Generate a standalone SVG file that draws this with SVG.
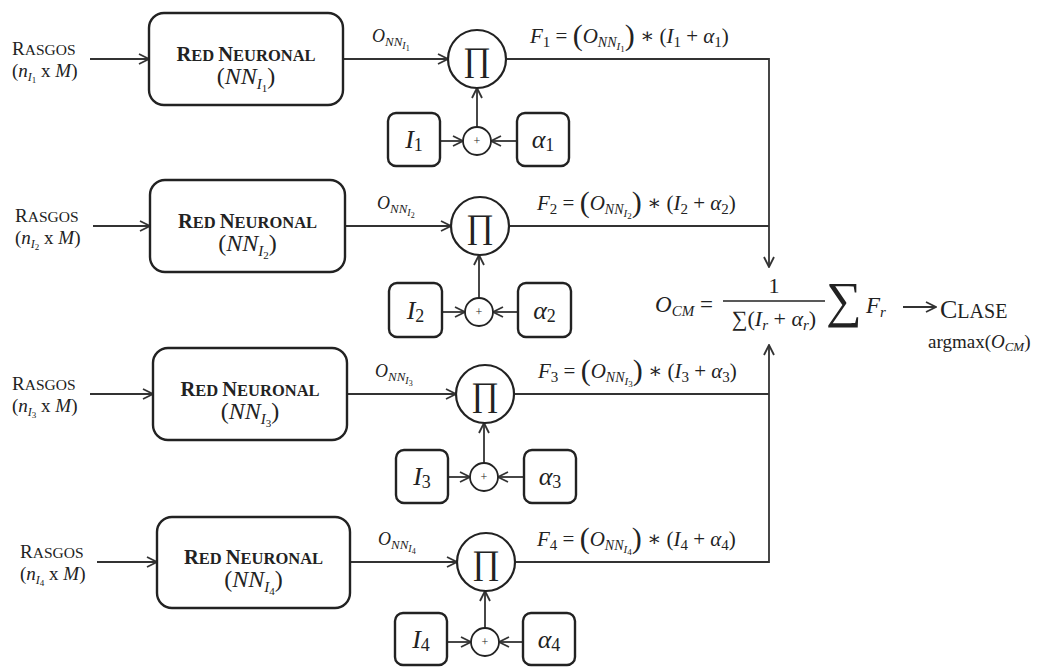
<svg xmlns="http://www.w3.org/2000/svg" width="1042" height="667" viewBox="0 0 1042 667">
<defs>
<marker id="ah" viewBox="0 0 12 12" refX="11" refY="6" markerWidth="12" markerHeight="12" markerUnits="userSpaceOnUse" orient="auto"><path d="M1,1 L11,6 L1,11" fill="none" stroke="#333" stroke-width="1.8"/></marker>
<style>
.ln{fill:none;stroke:#333;stroke-width:1.8}
.ar{marker-end:url(#ah)}
.box{fill:#fff;stroke:#222;stroke-width:2.4}
.cir{fill:#fff;stroke:#222;stroke-width:2.2}
.pc{fill:#fff;stroke:#222;stroke-width:1.8}
.t{font-family:"Liberation Serif","DejaVu Serif",serif;fill:#222}
.i{font-style:italic}
.b{font-weight:bold}
</style>
</defs>
<rect width="1042" height="667" fill="#fff"/>

<g id="connectors">
<path class="ln ar" d="M90,59 H149"/>
<path class="ln ar" d="M343,59 H448"/>
<path class="ln ar" d="M440,141 H463"/>
<path class="ln ar" d="M517,141 H491"/>
<path class="ln ar" d="M477,127 V88"/>
<path class="ln ar" d="M506,59 H769 V267"/>

<path class="ln ar" d="M93,226 H150"/>
<path class="ln ar" d="M345,226 H451"/>
<path class="ln ar" d="M442,312 H465"/>
<path class="ln ar" d="M518,312 H493"/>
<path class="ln ar" d="M479,298 V255"/>
<path class="ln" d="M509,226 H769"/>

<path class="ln ar" d="M90,394 H153"/>
<path class="ln ar" d="M347,394 H456"/>
<path class="ln ar" d="M448,477 H470"/>
<path class="ln ar" d="M524,477 H498"/>
<path class="ln ar" d="M484,463 V423"/>
<path class="ln" d="M514,394 H769"/>

<path class="ln ar" d="M97,562 H157"/>
<path class="ln ar" d="M350,562 H457"/>
<path class="ln ar" d="M447,642 H471"/>
<path class="ln ar" d="M523,642 H499"/>
<path class="ln ar" d="M485,628 V591"/>
<path class="ln ar" d="M515,562 H769 V345"/>

<path class="ln ar" d="M903,307 H936"/>

<!-- edge labels -->
<text class="t" x="372" y="42" font-size="18"><tspan class="i">O</tspan><tspan class="i" font-size="13" dy="4">NN</tspan><tspan class="i" font-size="10" dy="3">I</tspan><tspan font-size="8" dy="2">1</tspan></text>
<text class="t" x="377" y="209" font-size="18"><tspan class="i">O</tspan><tspan class="i" font-size="13" dy="4">NN</tspan><tspan class="i" font-size="10" dy="3">I</tspan><tspan font-size="8" dy="2">2</tspan></text>
<text class="t" x="375" y="377" font-size="18"><tspan class="i">O</tspan><tspan class="i" font-size="13" dy="4">NN</tspan><tspan class="i" font-size="10" dy="3">I</tspan><tspan font-size="8" dy="2">3</tspan></text>
<text class="t" x="378" y="545" font-size="18"><tspan class="i">O</tspan><tspan class="i" font-size="13" dy="4">NN</tspan><tspan class="i" font-size="10" dy="3">I</tspan><tspan font-size="8" dy="2">4</tspan></text>

<text class="t" x="530" y="43" font-size="21"><tspan class="i">F</tspan><tspan font-size="15" dy="4">1</tspan><tspan dy="-4"> = </tspan><tspan font-size="30" dy="2">(</tspan><tspan class="i" dy="-2">O</tspan><tspan class="i" font-size="14" dy="4">NN</tspan><tspan class="i" font-size="11" dy="3">I</tspan><tspan font-size="9" dy="2">1</tspan><tspan font-size="30" dy="-7">)</tspan><tspan dy="-2"> ∗ (</tspan><tspan class="i">I</tspan><tspan font-size="15" dy="4">1</tspan><tspan dy="-4"> + </tspan><tspan class="i">α</tspan><tspan font-size="15" dy="4">1</tspan><tspan dy="-4">)</tspan></text>
<text class="t" x="537" y="210" font-size="21"><tspan class="i">F</tspan><tspan font-size="15" dy="4">2</tspan><tspan dy="-4"> = </tspan><tspan font-size="30" dy="2">(</tspan><tspan class="i" dy="-2">O</tspan><tspan class="i" font-size="14" dy="4">NN</tspan><tspan class="i" font-size="11" dy="3">I</tspan><tspan font-size="9" dy="2">2</tspan><tspan font-size="30" dy="-7">)</tspan><tspan dy="-2"> ∗ (</tspan><tspan class="i">I</tspan><tspan font-size="15" dy="4">2</tspan><tspan dy="-4"> + </tspan><tspan class="i">α</tspan><tspan font-size="15" dy="4">2</tspan><tspan dy="-4">)</tspan></text>
<text class="t" x="538" y="378" font-size="21"><tspan class="i">F</tspan><tspan font-size="15" dy="4">3</tspan><tspan dy="-4"> = </tspan><tspan font-size="30" dy="2">(</tspan><tspan class="i" dy="-2">O</tspan><tspan class="i" font-size="14" dy="4">NN</tspan><tspan class="i" font-size="11" dy="3">I</tspan><tspan font-size="9" dy="2">3</tspan><tspan font-size="30" dy="-7">)</tspan><tspan dy="-2"> ∗ (</tspan><tspan class="i">I</tspan><tspan font-size="15" dy="4">3</tspan><tspan dy="-4"> + </tspan><tspan class="i">α</tspan><tspan font-size="15" dy="4">3</tspan><tspan dy="-4">)</tspan></text>
<text class="t" x="537" y="546" font-size="21"><tspan class="i">F</tspan><tspan font-size="15" dy="4">4</tspan><tspan dy="-4"> = </tspan><tspan font-size="30" dy="2">(</tspan><tspan class="i" dy="-2">O</tspan><tspan class="i" font-size="14" dy="4">NN</tspan><tspan class="i" font-size="11" dy="3">I</tspan><tspan font-size="9" dy="2">4</tspan><tspan font-size="30" dy="-7">)</tspan><tspan dy="-2"> ∗ (</tspan><tspan class="i">I</tspan><tspan font-size="15" dy="4">4</tspan><tspan dy="-4"> + </tspan><tspan class="i">α</tspan><tspan font-size="15" dy="4">4</tspan><tspan dy="-4">)</tspan></text>
</g>

<!-- Row 1 -->
<g id="rasgos-1">
<text class="t" x="12" y="55"><tspan font-size="19">R</tspan><tspan font-size="15.5">ASGOS</tspan></text>
<text class="t" x="12" y="77" font-size="19">(<tspan class="i">n</tspan><tspan class="i" font-size="12" dy="4">I</tspan><tspan font-size="9" dy="2">1</tspan><tspan dy="-6"> x </tspan><tspan class="i">M</tspan>)</text>
</g>
<g id="nn-1">
<rect class="box" x="149" y="13" width="194" height="92" rx="15"/>
<text class="t b" x="246" y="61" text-anchor="middle"><tspan font-size="20.5">R</tspan><tspan font-size="16.5">ED </tspan><tspan font-size="20.5">N</tspan><tspan font-size="16.5">EURONAL</tspan></text>
<text class="t" x="246" y="84" text-anchor="middle" font-size="24">(<tspan class="i">NN</tspan><tspan class="i" font-size="15" dy="5">I</tspan><tspan font-size="11" dy="3">1</tspan><tspan dy="-8">)</tspan></text>
</g>
<g id="prod-1">
<circle class="cir" cx="477" cy="59" r="29"/>
<text class="t" x="477" y="71" text-anchor="middle" font-size="34">∏</text>
</g>
<g id="I-1">
<rect class="box" x="388" y="113" width="52" height="53" rx="8"/>
<text class="t" x="414" y="148" text-anchor="middle" font-size="26"><tspan class="i">I</tspan><tspan font-size="18" dy="3">1</tspan></text>
</g>
<g id="alpha-1">
<rect class="box" x="517" y="113" width="52" height="53" rx="8"/>
<text class="t" x="543" y="148" text-anchor="middle" font-size="26"><tspan class="i">α</tspan><tspan font-size="18" dy="3">1</tspan></text>
</g>
<g id="plus-1">
<circle class="pc" cx="477" cy="141" r="14"/>
<text class="t" x="477" y="145" text-anchor="middle" font-size="12">+</text>
</g>

<!-- Row 2 -->
<g id="rasgos-2">
<text class="t" x="15" y="222"><tspan font-size="19">R</tspan><tspan font-size="15.5">ASGOS</tspan></text>
<text class="t" x="15" y="244" font-size="19">(<tspan class="i">n</tspan><tspan class="i" font-size="12" dy="4">I</tspan><tspan font-size="9" dy="2">2</tspan><tspan dy="-6"> x </tspan><tspan class="i">M</tspan>)</text>
</g>
<g id="nn-2">
<rect class="box" x="150" y="180" width="195" height="92" rx="15"/>
<text class="t b" x="247.5" y="228" text-anchor="middle"><tspan font-size="20.5">R</tspan><tspan font-size="16.5">ED </tspan><tspan font-size="20.5">N</tspan><tspan font-size="16.5">EURONAL</tspan></text>
<text class="t" x="247.5" y="251" text-anchor="middle" font-size="24">(<tspan class="i">NN</tspan><tspan class="i" font-size="15" dy="5">I</tspan><tspan font-size="11" dy="3">2</tspan><tspan dy="-8">)</tspan></text>
</g>
<g id="prod-2">
<circle class="cir" cx="480" cy="226" r="29"/>
<text class="t" x="480" y="238" text-anchor="middle" font-size="34">∏</text>
</g>
<g id="I-2">
<rect class="box" x="389" y="283" width="53" height="54" rx="8"/>
<text class="t" x="415.5" y="319" text-anchor="middle" font-size="26"><tspan class="i">I</tspan><tspan font-size="18" dy="3">2</tspan></text>
</g>
<g id="alpha-2">
<rect class="box" x="518" y="283" width="53" height="54" rx="8"/>
<text class="t" x="544.5" y="319" text-anchor="middle" font-size="26"><tspan class="i">α</tspan><tspan font-size="18" dy="3">2</tspan></text>
</g>
<g id="plus-2">
<circle class="pc" cx="479" cy="312" r="14"/>
<text class="t" x="479" y="316" text-anchor="middle" font-size="12">+</text>
</g>

<!-- Row 3 -->
<g id="rasgos-3">
<text class="t" x="12" y="390"><tspan font-size="19">R</tspan><tspan font-size="15.5">ASGOS</tspan></text>
<text class="t" x="12" y="412" font-size="19">(<tspan class="i">n</tspan><tspan class="i" font-size="12" dy="4">I</tspan><tspan font-size="9" dy="2">3</tspan><tspan dy="-6"> x </tspan><tspan class="i">M</tspan>)</text>
</g>
<g id="nn-3">
<rect class="box" x="153" y="348" width="194" height="92" rx="15"/>
<text class="t b" x="250" y="396" text-anchor="middle"><tspan font-size="20.5">R</tspan><tspan font-size="16.5">ED </tspan><tspan font-size="20.5">N</tspan><tspan font-size="16.5">EURONAL</tspan></text>
<text class="t" x="250" y="419" text-anchor="middle" font-size="24">(<tspan class="i">NN</tspan><tspan class="i" font-size="15" dy="5">I</tspan><tspan font-size="11" dy="3">3</tspan><tspan dy="-8">)</tspan></text>
</g>
<g id="prod-3">
<circle class="cir" cx="485" cy="394" r="29"/>
<text class="t" x="485" y="406" text-anchor="middle" font-size="34">∏</text>
</g>
<g id="I-3">
<rect class="box" x="396" y="450" width="52" height="53" rx="8"/>
<text class="t" x="422" y="485" text-anchor="middle" font-size="26"><tspan class="i">I</tspan><tspan font-size="18" dy="3">3</tspan></text>
</g>
<g id="alpha-3">
<rect class="box" x="524" y="450" width="52" height="53" rx="8"/>
<text class="t" x="550" y="485" text-anchor="middle" font-size="26"><tspan class="i">α</tspan><tspan font-size="18" dy="3">3</tspan></text>
</g>
<g id="plus-3">
<circle class="pc" cx="484" cy="477" r="14"/>
<text class="t" x="484" y="481" text-anchor="middle" font-size="12">+</text>
</g>

<!-- Row 4 -->
<g id="rasgos-4">
<text class="t" x="20" y="558"><tspan font-size="19">R</tspan><tspan font-size="15.5">ASGOS</tspan></text>
<text class="t" x="20" y="580" font-size="19">(<tspan class="i">n</tspan><tspan class="i" font-size="12" dy="4">I</tspan><tspan font-size="9" dy="2">4</tspan><tspan dy="-6"> x </tspan><tspan class="i">M</tspan>)</text>
</g>
<g id="nn-4">
<rect class="box" x="157" y="517" width="193" height="91" rx="15"/>
<text class="t b" x="253.5" y="564" text-anchor="middle"><tspan font-size="20.5">R</tspan><tspan font-size="16.5">ED </tspan><tspan font-size="20.5">N</tspan><tspan font-size="16.5">EURONAL</tspan></text>
<text class="t" x="253.5" y="587" text-anchor="middle" font-size="24">(<tspan class="i">NN</tspan><tspan class="i" font-size="15" dy="5">I</tspan><tspan font-size="11" dy="3">4</tspan><tspan dy="-8">)</tspan></text>
</g>
<g id="prod-4">
<circle class="cir" cx="486" cy="562" r="29"/>
<text class="t" x="486" y="574" text-anchor="middle" font-size="34">∏</text>
</g>
<g id="I-4">
<rect class="box" x="395" y="613" width="52" height="52" rx="8"/>
<text class="t" x="421" y="648" text-anchor="middle" font-size="26"><tspan class="i">I</tspan><tspan font-size="18" dy="3">4</tspan></text>
</g>
<g id="alpha-4">
<rect class="box" x="523" y="613" width="52" height="52" rx="8"/>
<text class="t" x="549" y="648" text-anchor="middle" font-size="26"><tspan class="i">α</tspan><tspan font-size="18" dy="3">4</tspan></text>
</g>
<g id="plus-4">
<circle class="pc" cx="485" cy="642" r="14"/>
<text class="t" x="485" y="646" text-anchor="middle" font-size="12">+</text>
</g>

<!-- Combination formula -->
<g id="ocm">
<text class="t" x="655" y="312" font-size="23"><tspan class="i">O</tspan><tspan class="i" font-size="15" dy="4">CM</tspan><tspan dy="-4"> =</tspan></text>
<text class="t" x="774" y="293" text-anchor="middle" font-size="22">1</text>
<line x1="723" y1="301" x2="825" y2="301" stroke="#222" stroke-width="1.5"/>
<text class="t" x="774" y="326" text-anchor="middle" font-size="22">∑(<tspan class="i">I</tspan><tspan class="i" font-size="15" dy="4">r</tspan><tspan dy="-4"> + </tspan><tspan class="i">α</tspan><tspan class="i" font-size="15" dy="4">r</tspan><tspan dy="-4">)</tspan></text>
<text class="t" x="826" y="317" font-size="50">∑</text>
<text class="t" x="866" y="313" font-size="23"><tspan class="i">F</tspan><tspan class="i" font-size="15" dy="4">r</tspan></text>
</g>
<g id="clase">
<text class="t" x="940" y="318"><tspan font-size="26">C</tspan><tspan font-size="20">LASE</tspan></text>
<text class="t" x="928" y="348" font-size="19">argmax(<tspan class="i">O</tspan><tspan class="i" font-size="13" dy="3">CM</tspan><tspan dy="-3">)</tspan></text>
</g>
</svg>
